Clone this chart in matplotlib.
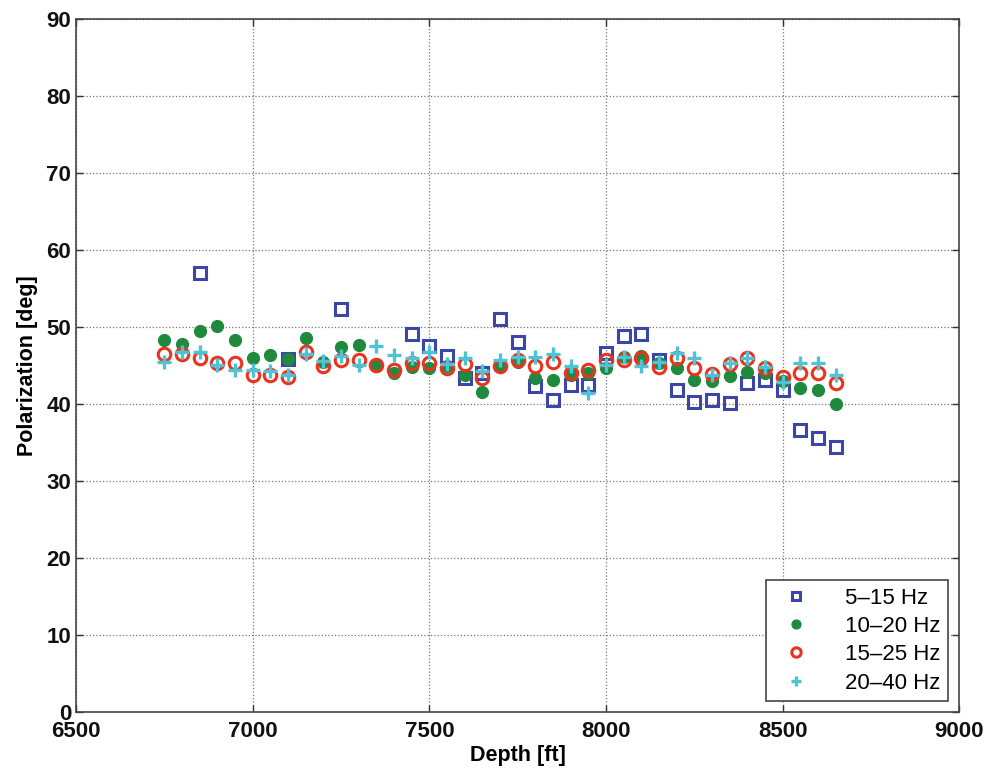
import numpy as np
import matplotlib
matplotlib.use("Agg")
import matplotlib.pyplot as plt

nan = np.nan
depth = np.arange(6750, 8651, 50)

pol_5_15 = [nan, nan, 57.0, nan, nan, nan, nan, 45.9, nan, nan,
            52.3, nan, nan, nan, 49.1, 47.6, 46.2, 43.4, 44.1, 51.0,
            48.1, 42.4, 40.6, 42.5, 42.5, 46.7, 48.9, 49.1, 45.7, 41.9,
            40.3, 40.5, 40.2, 42.7, 43.2, 41.8, 36.7, 35.6, 34.4]
pol_10_20 = [48.4, 47.8, 49.5, 50.1, 48.4, 46.0, 46.4, 45.9, 48.6, 45.5,
             47.4, 47.7, 45.0, 44.0, 44.8, 44.7, 44.9, 43.8, 41.6, 45.0,
             45.5, 43.4, 43.1, 43.8, 44.1, 44.7, 46.1, 46.3, 45.3, 44.7,
             43.1, 43.0, 43.7, 44.2, 44.0, 43.0, 42.1, 41.9, 40.0]
pol_15_25 = [46.5, 46.5, 46.0, 45.3, 45.4, 43.8, 43.8, 43.6, 46.8, 45.0,
             45.7, 45.7, 45.1, 44.4, 45.3, 45.3, 44.7, 45.2, 43.4, 44.9,
             45.7, 44.9, 45.5, 44.0, 44.4, 45.7, 45.7, 46.0, 44.8, 46.0,
             44.7, 43.9, 45.2, 46.0, 44.7, 43.5, 44.0, 44.1, 42.7]
pol_20_40 = [45.5, 46.8, 46.8, 45.1, 44.5, 44.4, 44.3, 43.8, 46.5, 45.6,
             46.3, 45.1, 47.6, 46.4, 46.0, 46.8, 45.2, 46.0, 44.3, 45.7,
             46.1, 46.1, 46.5, 44.9, 41.4, 45.1, 46.1, 44.9, 45.5, 46.7,
             46.0, 43.8, 45.4, 46.0, 44.8, 42.9, 45.4, 45.4, 43.8]

labels = ["5\u201315 Hz", "10\u201320 Hz", "15\u201325 Hz", "20\u201340 Hz"]

plt.rcParams['font.family'] = ['Liberation Sans', 'DejaVu Sans']

fig = plt.figure(figsize=(9.86, 7.74), dpi=100)
ax = fig.add_axes([0.0771, 0.0795, 0.896, 0.8960])

ax.plot(depth, pol_5_15, linestyle='none', marker='s', ms=8.5, mfc='none',
        mec='#3b46a8', mew=2.2, label=labels[0])
ax.plot(depth, pol_10_20, linestyle='none', marker='o', ms=8.5, mfc='#1f8a3e',
        mec='#1f8a3e', mew=1, label=labels[1])
ax.plot(depth, pol_15_25, linestyle='none', marker='o', ms=9, mfc='none',
        mec='#e8341e', mew=2.2, label=labels[2])
ax.plot(depth, pol_20_40, linestyle='none', marker='+', ms=9.5,
        mec='#4ec3d6', mew=2.4, label=labels[3])

ax.set_xlim(6500, 9000)
ax.set_ylim(0, 90)
ax.set_xticks(np.arange(6500, 9001, 500))
ax.set_yticks(np.arange(0, 91, 10))
ax.grid(True, linestyle=':', color='#777777', linewidth=0.9)
ax.tick_params(direction='in', length=5, width=1, labelsize=16,
               top=True, right=True, colors='#333333', labelcolor='#111111')
ax.tick_params(axis='x', pad=6)
for lbl in ax.get_xticklabels() + ax.get_yticklabels():
    lbl.set_fontweight('bold')
for s in ax.spines.values():
    s.set_color('#444444')
    s.set_linewidth(1.2)

ax.set_xlabel("Depth [ft]", fontsize=15.5, fontweight='bold', labelpad=2)
ax.set_ylabel("Polarization [deg]", fontsize=15.5, fontweight='bold', labelpad=6)

leg = ax.legend(loc='lower right', fontsize=16, frameon=True, fancybox=False,
                edgecolor='#444444', framealpha=1, borderpad=0.35,
                handletextpad=1.2, labelspacing=0.33, borderaxespad=0.5,
                markerscale=0.75)
leg.get_frame().set_linewidth(1.2)

fig.savefig("out.png", dpi=100)
